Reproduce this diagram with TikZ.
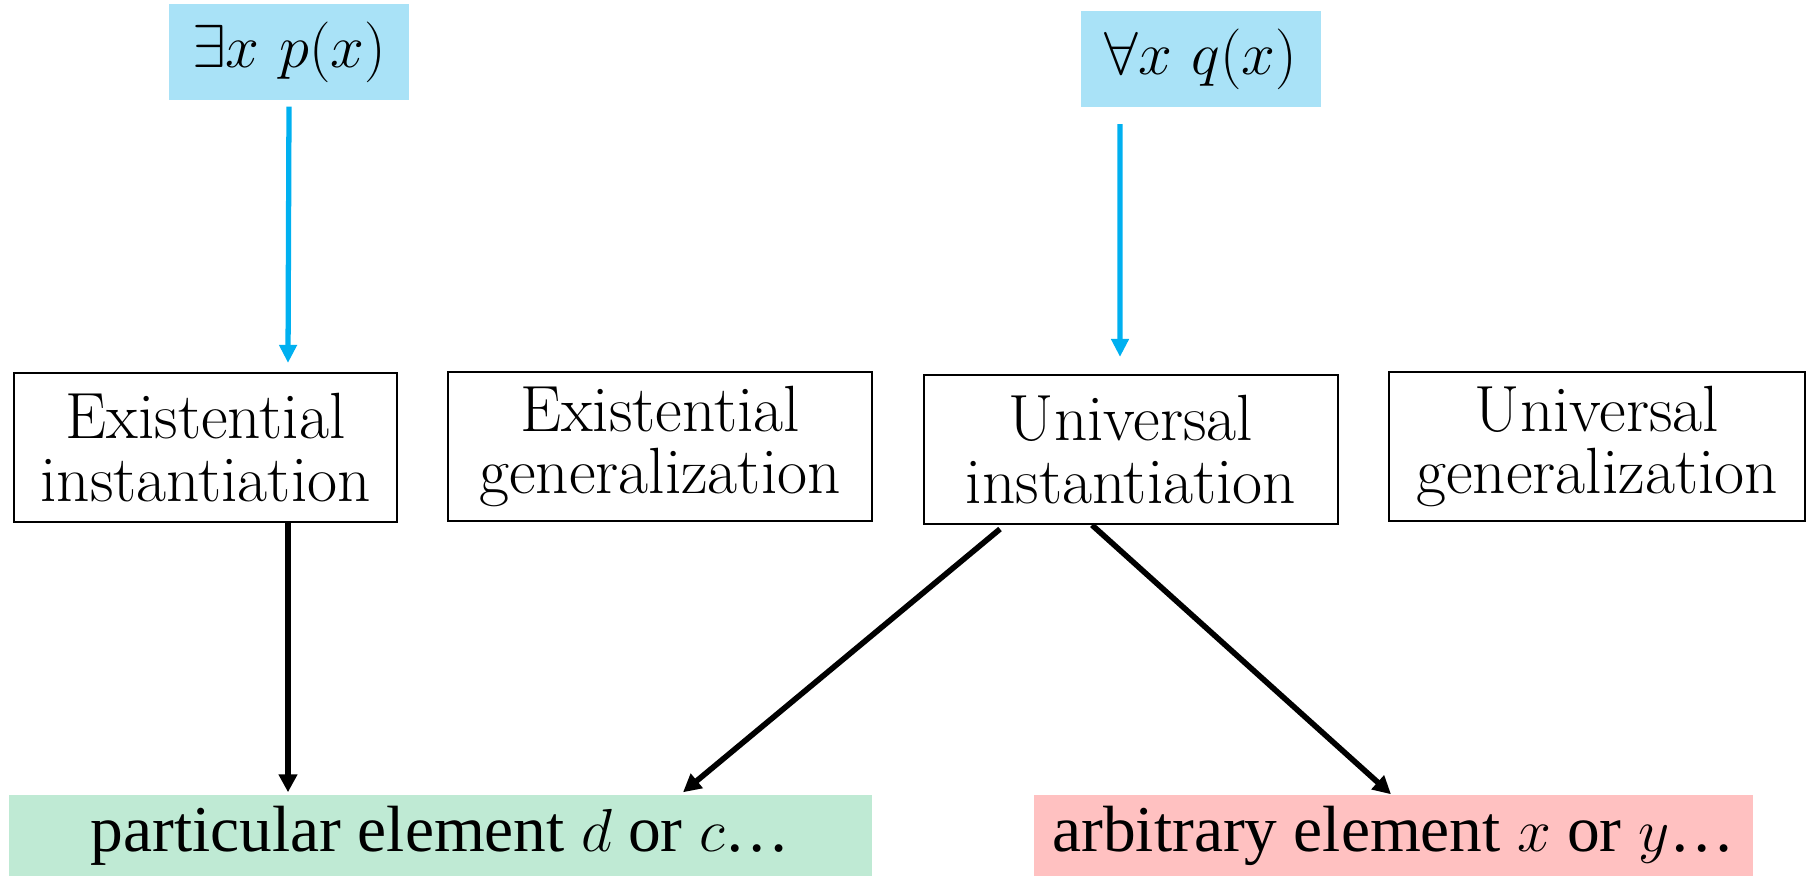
\documentclass[tikz,border=0pt]{standalone}
\usepackage{fontspec}
\usetikzlibrary{calc,arrows.meta}
\newfontfamily\timesfont{Liberation Serif}
\definecolor{quantblue}{RGB}{169,226,247}
\definecolor{arrowblue}{RGB}{0,176,240}
\definecolor{partgreen}{RGB}{191,234,212}
\definecolor{arbpink}{RGB}{255,193,193}
\tikzset{
	rulebox/.style={draw=black, line width=0.6pt, inner sep=0pt, align=center, minimum height=1.49cm, font=\fontsize{18.6}{17.8}\selectfont},
	quantbox/.style={fill=quantblue, inner sep=0pt, minimum width=2.4cm, minimum height=0.96cm, font=\fontsize{18.5}{20}\selectfont},
	elembox/.style={inner sep=0pt, minimum height=0.81cm, font=\timesfont\fontsize{18.6}{20}\selectfont},
	bluearrow/.style={draw=arrowblue, line width=1.5pt, -{Triangle[length=0.18cm,width=0.17cm]}},
	blackarrow/.style={draw=black, line width=1.6pt, -{Triangle[length=0.18cm,width=0.18cm]}}
}

\begin{document}
\begin{tikzpicture}
		%%%%% START %%%%%
		
		\useasboundingbox (0, 0) rectangle (18.07, 8.76);
		
		\node[quantbox] (exq) at (2.89, 8.24) {$\exists x\ p(x)$};
		\node[quantbox] (allq) at (12.01, 8.165) {$\forall x\ q(x)$};
		
		\node[rulebox, minimum width=3.83cm] (ei) at (2.055, 4.285) {Existential\\instantiation};
		\node[rulebox, minimum width=4.24cm] (eg) at (6.60, 4.295) {Existential\\generalization};
		\node[rulebox, minimum width=4.14cm] (ui) at (11.31, 4.265) {Universal\\instantiation};
		\node[rulebox, minimum width=4.16cm] (ug) at (15.97, 4.295) {Universal\\generalization};
		
		\node[elembox, fill=partgreen, minimum width=8.63cm] (pe) at (4.405, 0.405) {particular element $d$ or $c$\dots};
		\node[elembox, fill=arbpink, minimum width=7.19cm] (ae) at (13.935, 0.405) {arbitrary element $x$ or $y$\dots};
		
		\draw[bluearrow] ([yshift=-0.06cm]exq.south) -- ([xshift=0.825cm, yshift=0.09cm]ei.north);
		\draw[bluearrow] ([xshift=-0.81cm, yshift=-0.16cm]allq.south) -- ([xshift=-0.11cm, yshift=0.17cm]ui.north);
		
		\draw[blackarrow] ([xshift=0.825cm]ei.south) -- ([xshift=-1.525cm, yshift=0.02cm]pe.north);
		\draw[blackarrow] ([xshift=-1.31cm, yshift=-0.04cm]ui.south) -- ([xshift=2.425cm, yshift=0.02cm]pe.north);
		\draw[blackarrow] ([xshift=-0.39cm]ui.south) -- ([xshift=-0.025cm]ae.north);
		
		%%%%% END %%%%%
	\end{tikzpicture}
\end{document}
